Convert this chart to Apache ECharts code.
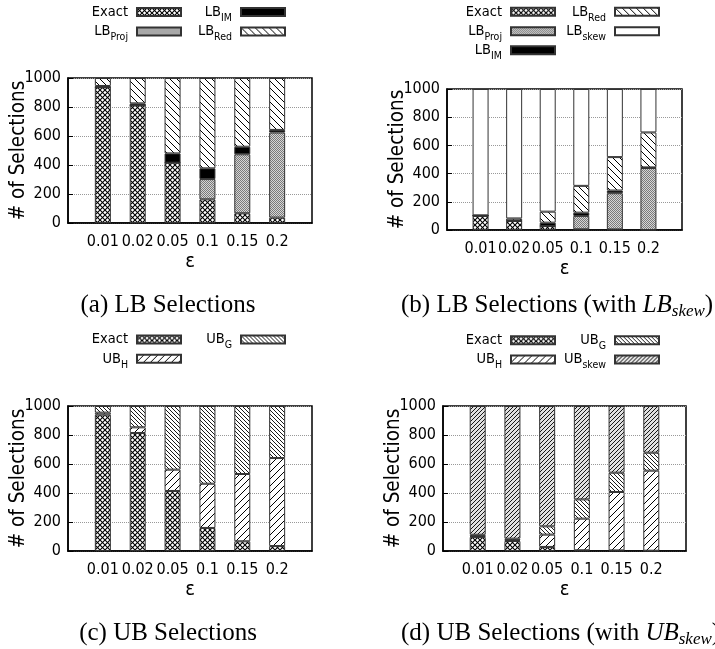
<!DOCTYPE html>
<html>
<head>
<meta charset="utf-8">
<script src="https://cdn.jsdelivr.net/npm/echarts@6/dist/echarts.min.js"></script>
<style>
html,body{margin:0;padding:0;background:#fff;}
#chart{width:715px;height:649px;}
</style>
</head>
<body>
<div id="chart"></div>
<script>
// epsilon values on the x axis
var eps = ['0.01', '0.02', '0.05', '0.1', '0.15', '0.2'];

// (a) LB selections
var aExact = [936, 811, 416, 163, 67, 37];
var aProj  = [0, 0, 0, 140, 407, 587];
var aIM    = [9, 14, 64, 74, 52, 18];
var aRed   = [55, 175, 520, 623, 474, 358];

// (b) LB selections with LB_skew
var bExact = [100, 64, 28, 5, 4, 0];
var bProj  = [0, 0, 0, 95, 257, 440];
var bIM    = [4, 4, 24, 23, 19, 4];
var bRed   = [0, 14, 78, 190, 237, 248];
var bSkew  = [896, 918, 870, 687, 483, 308];

// (c) UB selections
var cExact = [940, 814, 414, 159, 67, 34];
var cH     = [14, 39, 147, 305, 464, 607];
var cG     = [46, 147, 439, 536, 469, 359];

// (d) UB selections with UB_skew
var dExact = [97, 69, 28, 5, 4, 2];
var dH     = [5, 6, 85, 218, 403, 552];
var dG     = [10, 10, 57, 133, 133, 124];
var dSkew  = [888, 915, 830, 644, 460, 322];

var F = '"DejaVu Sans Condensed", "DejaVu Sans", sans-serif';
var SERIF = '"Liberation Serif", "Times New Roman", serif';

// gnuplot-like fill patterns
function tile(size, fn) {
    var c = document.createElement('canvas');
    c.width = c.height = size;
    var g = c.getContext('2d');
    g.fillStyle = '#fff';
    g.fillRect(0, 0, size, size);
    fn(g, size);
    return {image: c, repeat: 'repeat'};
}
function diag(g, s, dir, w) {
    g.strokeStyle = '#000';
    g.lineWidth = w;
    g.beginPath();
    for (var k = -1; k <= 1; k++) {
        if (dir > 0) { g.moveTo(k * s, s); g.lineTo(k * s + s, 0); }
        else { g.moveTo(k * s, 0); g.lineTo(k * s + s, s); }
    }
    g.stroke();
}
var pat = {
    exact: tile(5, function (g, s) { diag(g, s, 1, 1.1); diag(g, s, -1, 1.1); }),
    proj: tile(2, function (g) {
        g.fillStyle = '#d6d6d6'; g.fillRect(0, 0, 2, 2);
        g.fillStyle = '#7a7a7a'; g.fillRect(0, 0, 1, 1); g.fillRect(1, 1, 1, 1);
    }),
    im: '#000',
    red: tile(7, function (g, s) { diag(g, s, -1, 1); }),
    white: '#fff',
    h: tile(7, function (g, s) { diag(g, s, 1, 1); }),
    g: tile(4, function (g, s) { diag(g, s, -1, 0.9); }),
    skew: tile(4, function (g, s) {
        g.fillStyle = '#e0e0e0'; g.fillRect(0, 0, s, s);
        diag(g, s, 1, 0.9);
    })
};

var cats = [''].concat(eps, ['']);

var labels = {
    aExact: '{m|Exact}', aProj: '{b|LB}{s|Proj}', aIM: '{b|LB}{s|IM}', aRed: '{b|LB}{s|Red}',
    bExact: '{m|Exact}', bProj: '{b|LB}{s|Proj}', bIM: '{b|LB}{s|IM}', bRed: '{b|LB}{s|Red}', bSkew: '{b|LB}{s|skew}',
    cExact: '{m|Exact}', cH: '{b|UB}{s|H}', cG: '{b|UB}{s|G}',
    dExact: '{m|Exact}', dH: '{b|UB}{s|H}', dG: '{b|UB}{s|G}', dSkew: '{b|UB}{s|skew}'
};
var rich = {
    m: {fontFamily: F, fontSize: 14.5, lineHeight: 16, padding: [4, 4, 4, 0], color: '#000'},
    b: {fontFamily: F, fontSize: 14.5, lineHeight: 16, padding: [4, 0, 4, 0], color: '#000'},
    s: {fontFamily: F, fontSize: 10.5, lineHeight: 12, padding: [12, 4, 0, 0], color: '#000'}
};

var grids = [
    {left: 68, top: 78, width: 244, height: 145},
    {left: 447, top: 89, width: 235, height: 141},
    {left: 68, top: 406, width: 244, height: 145},
    {left: 443, top: 406, width: 243, height: 145}
];

function bars(name, idx, vals, fill) {
    return {
        name: name, type: 'bar', stack: 's' + idx,
        xAxisIndex: idx, yAxisIndex: idx, barWidth: 16,
        data: [null].concat(vals, [null]),
        itemStyle: {color: fill, borderColor: '#333', borderWidth: 1}
    };
}

function leg(name, right, cy) {
    return {
        data: [name], right: right, top: cy - 12, padding: 0,
        align: 'right', icon: 'rect', itemWidth: 44, itemHeight: 8,
        selectedMode: false,
        formatter: function (n) { return labels[n]; },
        textStyle: {color: '#000', rich: rich}
    };
}

var xAxes = [], yAxes = [];
grids.forEach(function (gr, i) {
    gr.show = true;
    gr.borderColor = '#000';
    gr.borderWidth = 1.5;
    xAxes.push({
        type: 'category', gridIndex: i, data: cats, boundaryGap: false,
        axisTick: {show: false},
        axisLine: {lineStyle: {color: '#000', width: 1.5}},
        axisLabel: {interval: 0, color: '#000', fontSize: 16, fontFamily: F, margin: 11},
        splitLine: {show: false},
        name: 'ε', nameLocation: 'middle', nameGap: 29,
        nameTextStyle: {fontSize: 20, fontFamily: F, color: '#000'}
    });
    yAxes.push({
        type: 'value', gridIndex: i, min: 0, max: 1000, interval: 200,
        axisLine: {show: true, lineStyle: {color: '#000', width: 1.5}},
        axisTick: {show: true, inside: true, length: 5, lineStyle: {color: '#000'}},
        axisLabel: {color: '#000', fontSize: 16, fontFamily: F, margin: 7,
            formatter: function (v) { return String(v); }},
        splitLine: {show: true, lineStyle: {color: '#999', type: 'dotted', width: 1}},
        name: '# of Selections', nameLocation: 'middle', nameGap: 39, nameMoveOverlap: false,
        nameTextStyle: {fontSize: 20.5, fontFamily: F, color: '#000'}
    });
});

var series = [
    bars('aExact', 0, aExact, pat.exact), bars('aProj', 0, aProj, pat.proj),
    bars('aIM', 0, aIM, pat.im), bars('aRed', 0, aRed, pat.red),
    bars('bExact', 1, bExact, pat.exact), bars('bProj', 1, bProj, pat.proj),
    bars('bIM', 1, bIM, pat.im), bars('bRed', 1, bRed, pat.red), bars('bSkew', 1, bSkew, pat.white),
    bars('cExact', 2, cExact, pat.exact), bars('cH', 2, cH, pat.h), bars('cG', 2, cG, pat.g),
    bars('dExact', 3, dExact, pat.exact), bars('dH', 3, dH, pat.h),
    bars('dG', 3, dG, pat.g), bars('dSkew', 3, dSkew, pat.skew)
];

var legends = [
    leg('aExact', 533, 12.5), leg('aIM', 429, 12.5), leg('aProj', 533, 32), leg('aRed', 429, 32),
    leg('bExact', 159, 12.3), leg('bRed', 55, 12.3), leg('bProj', 159, 31.7), leg('bSkew', 55, 31.7),
    leg('bIM', 159, 50.7),
    leg('cExact', 533, 340), leg('cG', 429, 340), leg('cH', 533, 359.3),
    leg('dExact', 159, 340.7), leg('dG', 55, 340.7), leg('dH', 159, 360), leg('dSkew', 55, 360)
];

var capRich = {
    n: {fontFamily: SERIF, fontSize: 25, lineHeight: 30, padding: [0, 0, 8, 0], color: '#000'},
    i: {fontFamily: SERIF, fontSize: 25, fontStyle: 'italic', lineHeight: 30, padding: [0, 0, 8, 0], color: '#000'},
    si: {fontFamily: SERIF, fontSize: 17, fontStyle: 'italic', lineHeight: 20, padding: [12, 0, 6, 0], color: '#000'}
};
function caption(text, x, y, align) {
    return {type: 'text', x: x, y: y, style: {text: text, align: align, verticalAlign: 'middle', rich: capRich}};
}

var myChart = echarts.init(document.getElementById('chart'));
myChart.setOption({
    animation: false,
    backgroundColor: '#fff',
    grid: grids,
    xAxis: xAxes,
    yAxis: yAxes,
    legend: legends,
    series: series,
    graphic: [
        caption('{n|(a) LB Selections}', 168, 309, 'center'),
        caption('{n|(b) LB Selections (with }{i|LB}{si|skew}{n|)}', 401, 309, 'left'),
        caption('{n|(c) UB Selections}', 168, 637, 'center'),
        caption('{n|(d) UB Selections (with }{i|UB}{si|skew}{n|)}', 401, 637, 'left')
    ]
});
</script>
</body>
</html>
